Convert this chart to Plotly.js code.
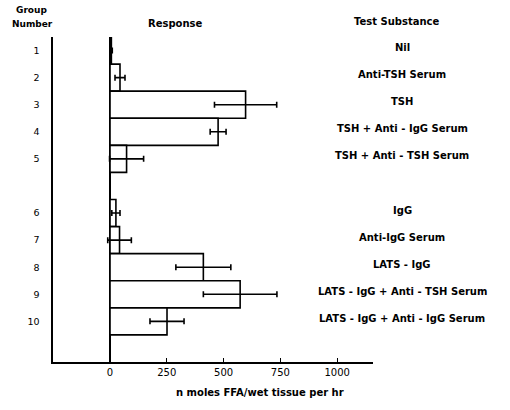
<!DOCTYPE html>
<html>
<head>
<meta charset="utf-8">
<script src="https://cdn.plot.ly/plotly-3.0.1.min.js"></script>
<style>html,body{margin:0;padding:0;background:#fff;}#chart{width:510px;height:410px;}</style>
</head>
<body>
<div id="chart"></div>
<script>
const groups = ['1','2','3','4','5','6','7','8','9','10'];
const response = [6, 44, 597, 476, 73, 26, 42, 411, 573, 251];
const errors = [4, 22, 137, 35, 75, 18, 52, 121, 162, 75];
const substances = ['Nil','Anti-TSH Serum','TSH','TSH + Anti - IgG Serum','TSH + Anti - TSH Serum',
  'IgG','Anti-IgG Serum','LATS - IgG','LATS - IgG + Anti - TSH Serum','LATS - IgG + Anti - IgG Serum'];
const xTicks = [0, 250, 500, 750, 1000];

// slot positions: a blank slot separates groups 1-5 and 6-10
const pos = groups.map((g, i) => i < 5 ? i + 1 : i + 2);

const F = 'DejaVu Sans, sans-serif';
const trace = {
  type: 'bar', orientation: 'h',
  x: response, y: pos, width: 1,
  marker: {color: '#ffffff', line: {color: '#000', width: 1.6}},
  error_x: {type: 'data', array: errors, visible: true, color: '#000', thickness: 1.6, width: 3},
  hoverinfo: 'skip'
};

const ann = [];
const t = (text, x, y, size) => ann.push({text, x, y, xref: 'paper', yref: 'paper',
  showarrow: false, xanchor: 'center', yanchor: 'middle',
  font: {family: F, size: size, color: '#000', weight: 'bold'}});
const px = v => (v - 53) / 320, py = v => (362 - v) / 325;
t('Group', px(31), py(10), 9);
t('Number', px(32), py(24), 9);
t('Response', px(175), py(24), 10);
t('Test Substance', px(396), py(22), 10);
t('n moles FFA/wet tissue per hr', px(260), py(392), 10);
substances.forEach((s, i) => ann.push({text: s, x: px(402), y: pos[i], xref: 'paper', yref: 'y',
  yshift: 3, showarrow: false, xanchor: 'center', yanchor: 'middle',
  font: {family: F, size: 10, color: '#000', weight: 'bold'}}));

const layout = {
  width: 510, height: 410,
  margin: {l: 53, r: 137, t: 37, b: 48},
  paper_bgcolor: '#fff', plot_bgcolor: '#fff',
  showlegend: false,
  xaxis: {range: [-251, 1158], tickvals: xTicks, ticktext: xTicks.map(String),
    showgrid: false, zeroline: true, zerolinecolor: '#000', zerolinewidth: 1.6,
    showline: true, linecolor: '#000', linewidth: 1.6,
    ticks: 'inside', ticklen: 4, tickcolor: '#000', tickwidth: 1.2,
    tickfont: {family: F, size: 10, color: '#000'}},
  yaxis: {range: [12.5, 0.5], tickvals: pos, ticktext: groups,
    showgrid: false, zeroline: false, showline: true, linecolor: '#000', linewidth: 1.6,
    ticks: '', ticklabelstandoff: 10,
    tickfont: {family: F, size: 9.5, color: '#000'}},
  annotations: ann
};

Plotly.newPlot('chart', [trace], layout, {staticPlot: true, displayModeBar: false});
</script>
</body>
</html>
